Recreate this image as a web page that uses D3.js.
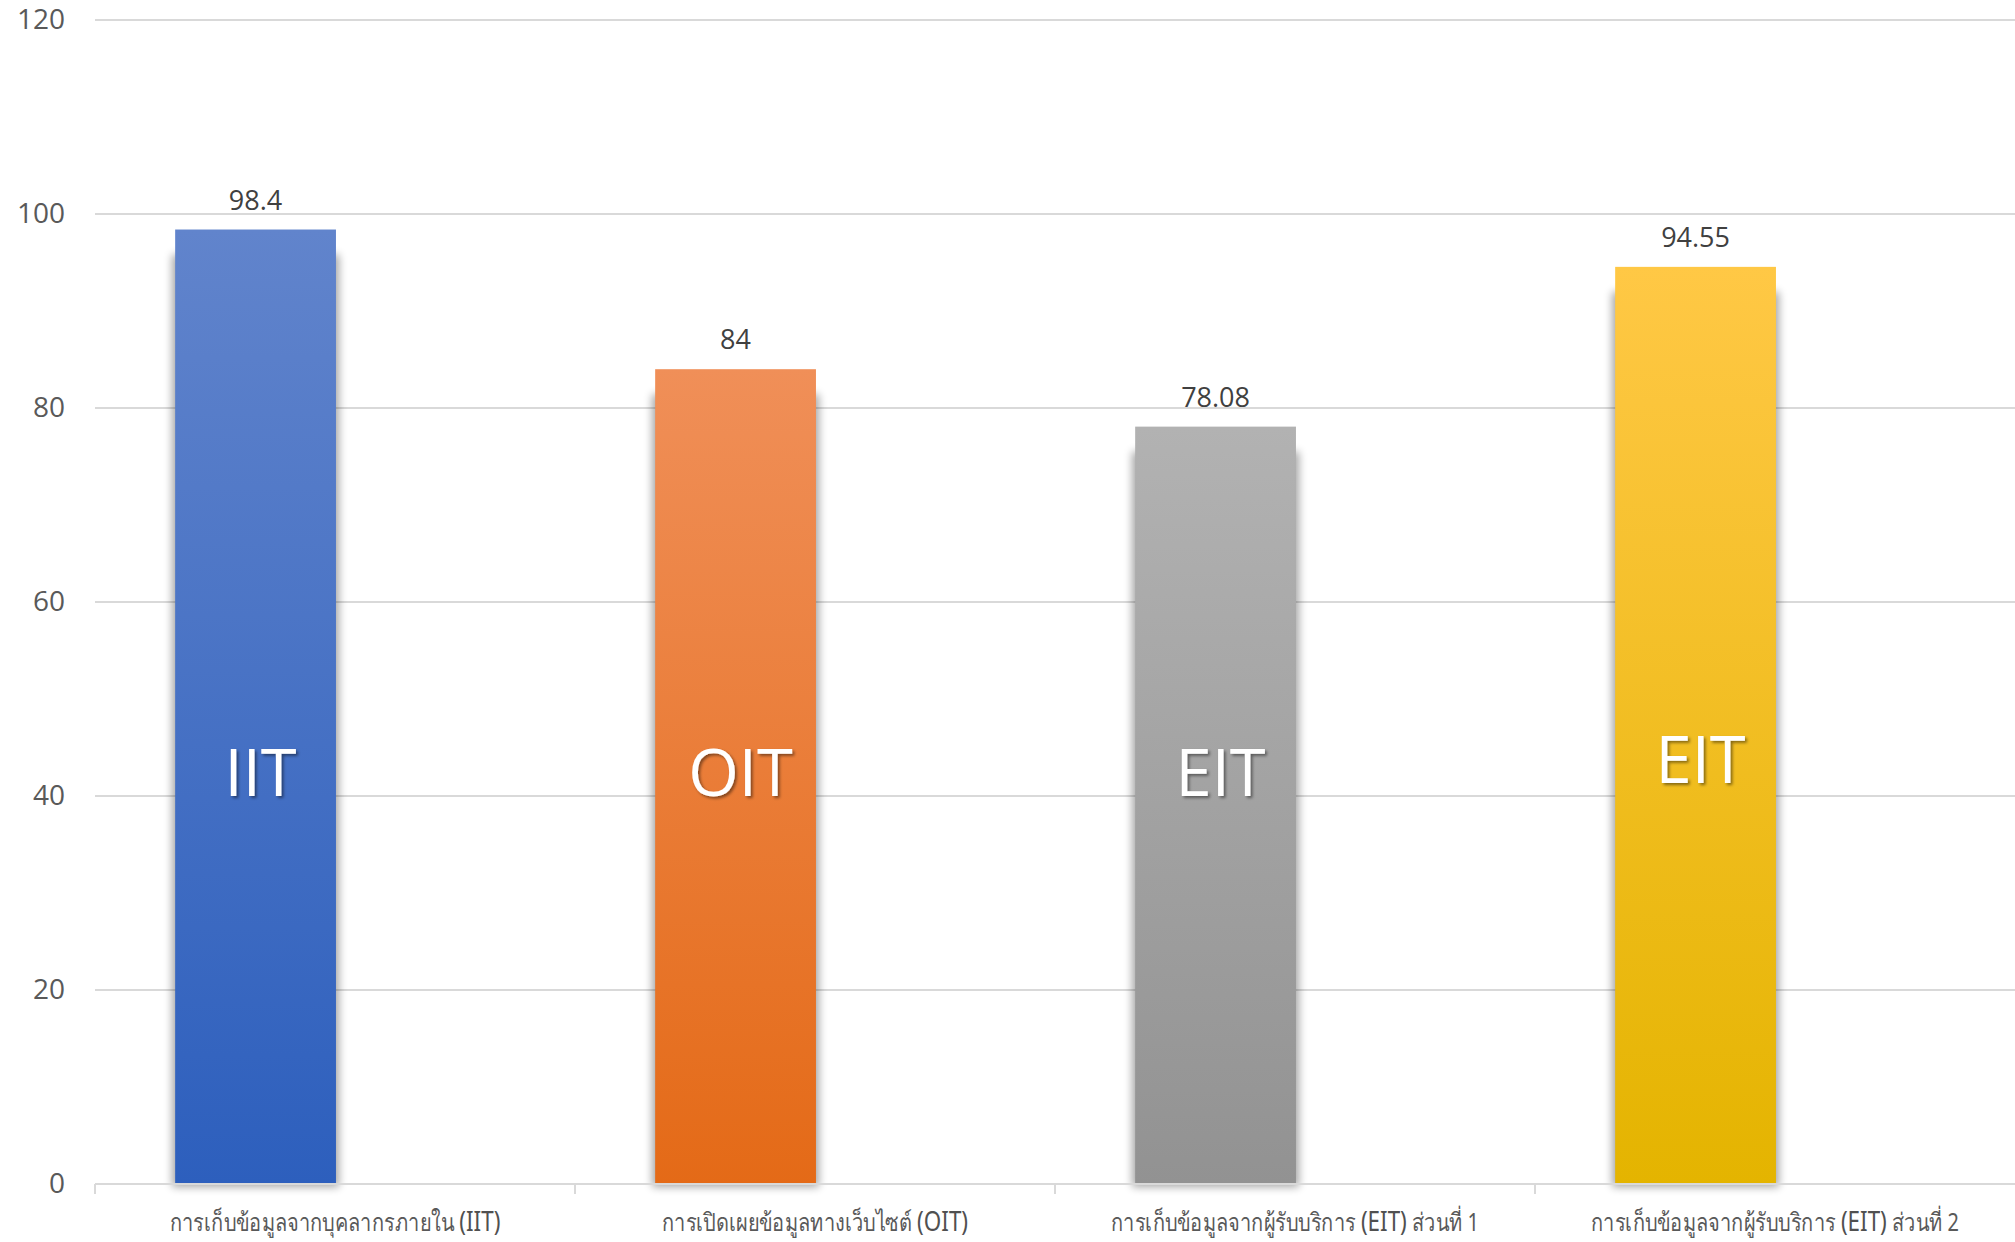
<!DOCTYPE html>
<html>
<head>
<meta charset="utf-8">
<script src="https://cdn.jsdelivr.net/npm/d3@7"></script>
<style>
  html, body { margin: 0; padding: 0; background: #fff; }
</style>
</head>
<body>
<div id="chart"></div>
<script>
// data
const categories = [
  "การเก็บข้อมูลจากบุคลากรภายใน (IIT)",
  "การเปิดเผยข้อมูลทางเว็บไซต์ (OIT)",
  "การเก็บข้อมูลจากผู้รับบริการ (EIT) ส่วนที่ 1",
  "การเก็บข้อมูลจากผู้รับบริการ (EIT) ส่วนที่ 2"
];
const values = [98.4, 84, 78.08, 94.55];
const valueLabels = ["98.4", "84", "78.08", "94.55"];
const innerLabels = ["IIT", "OIT", "EIT", "EIT"];
const innerLabelLevel = [40, 40, 40, 41.3];   // baseline, in axis units
const yTicks = [0, 20, 40, 60, 80, 100, 120];
const barColors = [
  ["#6184cc", "#2d5fbd"],
  ["#f08f58", "#e46a17"],
  ["#b2b2b2", "#929292"],
  ["#ffc845", "#e4b400"]
];

const width = 2015,
    height = 1242;

const x = d3.scaleBand()
    .domain(categories)
    .range([95, 2015]);

const y = d3.scaleLinear()
    .domain([0, 120])
    .range([1184, 20]);

const bw = x.bandwidth();
const barOff = bw * 0.167,
    barW = bw * 0.335;

const svg = d3.select("#chart").append("svg")
    .attr("width", width)
    .attr("height", height);

const defs = svg.append("defs");

barColors.forEach(function(c, i) {
  const g = defs.append("linearGradient")
      .attr("id", "grad" + i)
      .attr("x1", 0).attr("y1", 0)
      .attr("x2", 0).attr("y2", 1);
  g.append("stop").attr("offset", "0%").attr("stop-color", c[0]);
  g.append("stop").attr("offset", "100%").attr("stop-color", c[1]);
});

defs.append("filter")
    .attr("id", "blur")
    .attr("x", "-20%").attr("y", "-20%")
    .attr("width", "140%").attr("height", "140%")
    .append("feGaussianBlur")
    .attr("stdDeviation", 4);

defs.append("filter")
    .attr("id", "txtshadow")
    .append("feDropShadow")
    .attr("dx", 2).attr("dy", 2)
    .attr("stdDeviation", 1.5)
    .attr("flood-color", "#000")
    .attr("flood-opacity", 0.45);

// gridlines
svg.append("g")
    .selectAll("line")
    .data(yTicks.filter(d => d > 0))
    .join("line")
    .attr("x1", 95)
    .attr("x2", width)
    .attr("y1", d => y(d))
    .attr("y2", d => y(d))
    .attr("stroke", "#d9d9d9")
    .attr("stroke-width", 2);

// y axis labels
const yAxis = d3.axisLeft(y)
    .tickValues(yTicks)
    .tickSize(0)
    .tickPadding(0);

svg.append("g")
    .attr("transform", "translate(65,0)")
    .call(yAxis)
    .call(g => g.select(".domain").remove())
    .selectAll("text")
    .attr("fill", "#595959")
    .attr("font-family", "'Open Sans', sans-serif")
    .attr("font-size", 28);

// bar shadows
svg.append("g")
    .selectAll("rect")
    .data(values)
    .join("rect")
    .attr("x", (d, i) => x(categories[i]) + barOff - 3)
    .attr("y", d => y(d) + 25)
    .attr("width", barW + 6)
    .attr("height", d => y(0) - y(d) - 22)
    .attr("fill", "#000")
    .attr("opacity", 0.35)
    .attr("filter", "url(#blur)");

// bars
svg.append("g")
    .selectAll("rect")
    .data(values)
    .join("rect")
    .attr("x", (d, i) => x(categories[i]) + barOff)
    .attr("y", d => y(d))
    .attr("width", barW)
    .attr("height", d => y(0) - y(d))
    .attr("fill", (d, i) => "url(#grad" + i + ")");

// category axis
const xAxis = d3.axisBottom(x).tickSize(0).tickFormat("");
svg.append("g")
    .attr("transform", "translate(0," + y(0) + ")")
    .call(xAxis)
    .call(g => g.select(".domain")
        .attr("stroke", "#d9d9d9")
        .attr("stroke-width", 2)
        .attr("d", "M95,0H" + width));

svg.append("g")
    .selectAll("line")
    .data(categories)
    .join("line")
    .attr("x1", d => x(d))
    .attr("x2", d => x(d))
    .attr("y1", y(0))
    .attr("y2", y(0) + 10)
    .attr("stroke", "#d9d9d9")
    .attr("stroke-width", 2);

// category labels (condensed), latin part a bit larger
svg.append("g")
    .selectAll("text")
    .data(categories)
    .join("text")
    .attr("text-anchor", "middle")
    .attr("fill", "#595959")
    .attr("font-family", "'Noto Sans', 'DejaVu Sans', sans-serif")
    .attr("font-size", 25)
    .attr("transform", d => "translate(" + (x(d) + bw / 2) + ",1231) scale(0.8,1)")
    .each(function(d) {
      const parts = d.split(/(\(\w+\))/);
      const t = d3.select(this);
      parts.forEach(function(p) {
        if (!p) return;
        const s = t.append("tspan").text(p);
        if (/^\(\w+\)$/.test(p)) s.attr("font-size", 28).attr("fill", "#505050");
      });
    });

// value labels
svg.append("g")
    .selectAll("text")
    .data(values)
    .join("text")
    .attr("x", (d, i) => x(categories[i]) + barOff + barW / 2)
    .attr("y", d => y(d) - 20)
    .attr("text-anchor", "middle")
    .attr("fill", "#404040")
    .attr("font-family", "'Open Sans', sans-serif")
    .attr("font-size", 27)
    .text((d, i) => valueLabels[i]);

// big labels inside the bars
svg.append("g")
    .selectAll("text")
    .data(innerLabels)
    .join("text")
    .attr("x", (d, i) => x(categories[i]) + barOff + barW / 2 + 5)
    .attr("y", (d, i) => y(innerLabelLevel[i]))
    .attr("text-anchor", "middle")
    .attr("fill", "#fff")
    .attr("font-family", "'Open Sans', sans-serif")
    .attr("font-size", 65)
    .attr("filter", "url(#txtshadow)")
    .text(d => d);
</script>
</body>
</html>
